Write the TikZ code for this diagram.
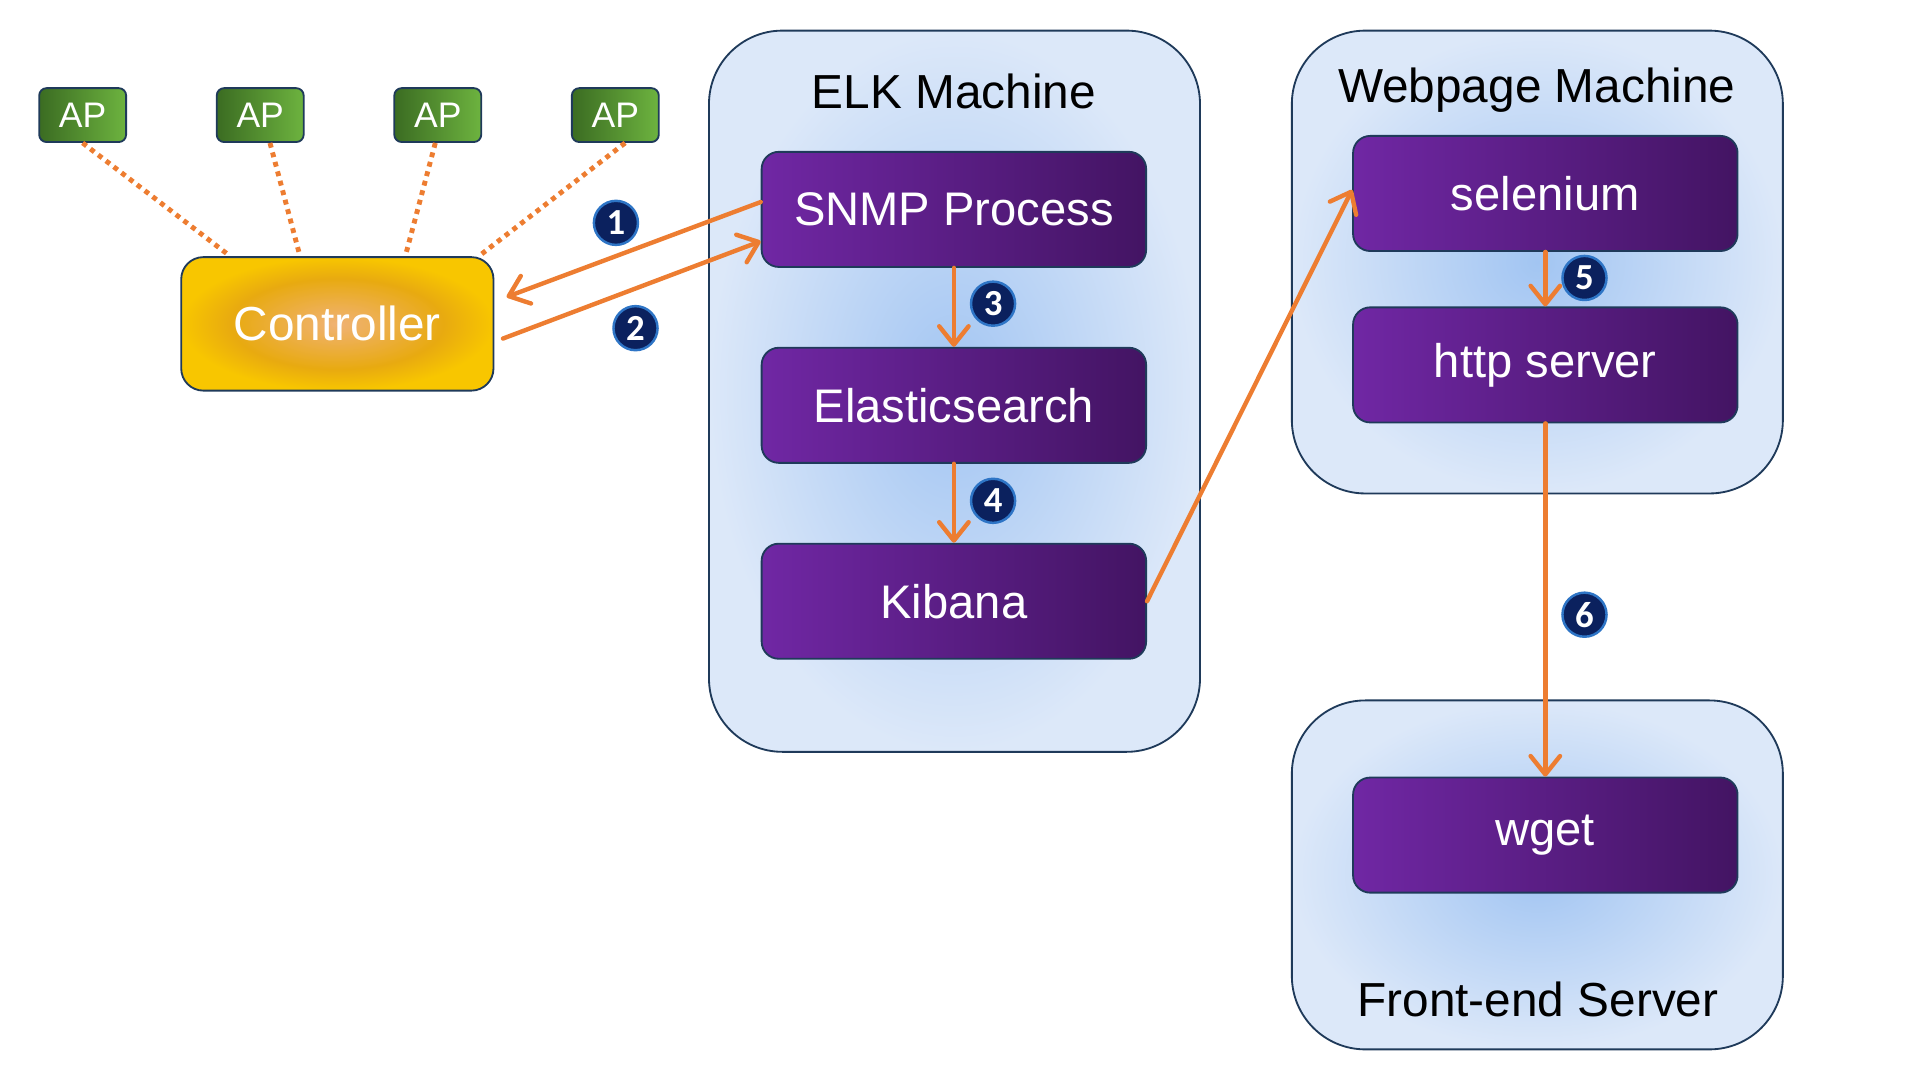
\documentclass[tikz,border=0pt]{standalone}
\usepackage{fontspec}
\setmainfont{Liberation Sans}
\newfontfamily\badgefont{Carlito}
\usepackage{tikz}
\usetikzlibrary{arrows.meta}
\usetikzlibrary{positioning}

\definecolor{flow}{HTML}{ED7D31}
\definecolor{edge}{HTML}{1F3A5A}
\definecolor{purpL}{HTML}{7027A4}
\definecolor{purpR}{HTML}{431463}
\definecolor{bluein}{HTML}{A2C5F2}
\definecolor{blueout}{HTML}{DCE8F9}
\definecolor{gDark}{HTML}{3B6C22}
\definecolor{gLight}{HTML}{6DB33F}
\definecolor{ctrlC}{HTML}{F0B274}
\definecolor{ctrlM}{HTML}{E8AA10}
\definecolor{ctrlE}{HTML}{F8C600}
\definecolor{badgefill}{HTML}{0B215E}
\definecolor{badgeline}{HTML}{2E75C6}

\pgfdeclareradialshading{ctrlshade}{\pgfpoint{0bp}{0bp}}{color(0bp)=(ctrlC); color(7bp)=(ctrlC!60!ctrlM); color(17bp)=(ctrlM); color(25bp)=(ctrlE); color(50bp)=(ctrlE)}

\tikzset{
  machine/.style={draw=edge, line width=1.5pt, rounded corners=60pt, inner color=bluein, outer color=blueout},
  caption/.style={text=black, font=\fontsize{39}{41}\selectfont},
  proc/.style={draw=edge, line width=1.5pt, rounded corners=14pt, left color=purpL, right color=purpR,
    minimum width=314pt, minimum height=94pt, text=white, font=\fontsize{38.5}{40}\selectfont},
  aptag/.style={draw=edge, line width=1.5pt, rounded corners=6pt, left color=gDark, right color=gLight,
    minimum width=71pt, minimum height=44pt, text=white, font=\fontsize{29}{30}\selectfont},
  ctrlbox/.style={draw=edge, line width=1.5pt, rounded corners=18pt, shading=ctrlshade,
    minimum width=255pt, minimum height=109pt, text=white, font=\fontsize{39}{41}\selectfont},
  badge/.style={circle, fill=badgefill, draw=badgeline, line width=2pt, minimum size=36pt, inner sep=0pt,
    text=white, font=\badgefont\bfseries\fontsize{30}{30}\selectfont},
  link/.style={draw=flow, line width=3.6pt, line cap=round, -{Straight Barb[length=15pt,width=24pt,round]}},
  apline/.style={draw=flow, line width=4pt, dash pattern=on 4pt off 4pt}
}

\begin{document}
\begin{tikzpicture}[x=1pt,y=-1pt]
  \useasboundingbox (0,0) rectangle (1568,882);

  % machines
  \node [machine, minimum width=401pt, minimum height=589pt] (elk) at (779.5,319.5) {};
  \node [machine, minimum width=401pt, minimum height=378pt] (web) at (1255.5,214) {};
  \node [machine, minimum width=401pt, minimum height=285pt] (front) at (1255.5,714.5) {};
  \node [caption] (elkT) at (779,75) {ELK Machine};
  \node [caption] (webT) at (1255,74) {Webpage Machine};
  \node [caption] (frontT) at (1256,816) {Front-end Server};

  % processes
  \node [proc] (snmp) at (779,171) {SNMP Process};
  \node [proc] (elastic) at (779,331) {Elasticsearch};
  \node [proc] (kibana) at (779,491) {Kibana};
  \node [proc] (sel) at (1262,158) {selenium};
  \node [proc] (http) at (1262,298) {http server};
  \node [proc] (wget) at (1262,682) {wget};

  % access points and controller
  \node [ctrlbox] (ctrl) at (275.5,264.5) {Controller};
  \node [aptag] (ap1) at (67.5,94) {AP};
  \node [aptag] (ap2) at (212.5,94) {AP};
  \node [aptag] (ap3) at (357.5,94) {AP};
  \node [aptag] (ap4) at (502.5,94) {AP};

  \draw [apline] (ap1.south) -- ([xshift=-87.5pt]ctrl.north);
  \draw [apline] ([xshift=8pt]ap2.south) -- ([xshift=-30.5pt]ctrl.north);
  \draw [apline] ([xshift=-2pt]ap3.south) -- ([xshift=55.5pt]ctrl.north);
  \draw [apline] ([xshift=8pt]ap4.south) -- ([xshift=115.5pt]ctrl.north);

  % flows
  \draw [link] ([yshift=6pt]snmp.west) -- ([xshift=10pt,yshift=22pt]ctrl.east);
  \draw [link] ([xshift=7pt,yshift=-12pt]ctrl.east) -- ([yshift=-26pt]snmp.west);
  \draw [link] (snmp.south) -- (elastic.north);
  \draw [link] (elastic.south) -- (kibana.north);
  \draw [link] (kibana.east) -- ([yshift=3pt]sel.west);
  \draw [link] (sel.south) -- (http.north);
  \draw [link] (http.south) -- (wget.north);

  \node [badge] (b1) at (503,182) {1};
  \node [badge] (b2) at (519,268) {2};
  \node [badge] (b3) at (811,248) {3};
  \node [badge] (b4) at (811,409) {4};
  \node [badge] (b5) at (1294,227) {5};
  \node [badge] (b6) at (1294,502) {6};
\end{tikzpicture}
\end{document}
